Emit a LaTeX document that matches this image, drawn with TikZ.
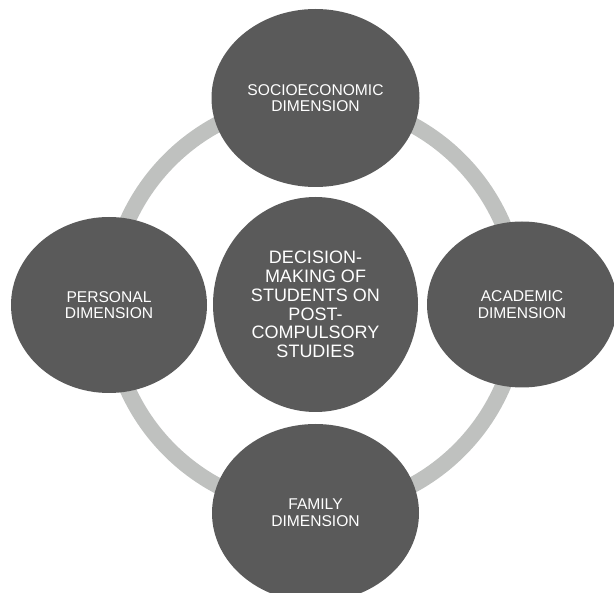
\documentclass[tikz,border=0pt]{standalone}
\usepackage{fontspec}
\setmainfont{Liberation Sans}
\usetikzlibrary{shapes.geometric}
\definecolor{blobgray}{HTML}{5A5A5A}
\definecolor{ringgray}{HTML}{BFC1BF}
\tikzset{
dimnode/.style={ellipse, fill=blobgray, text=white, inner sep=0pt, align=center,
	font=\fontsize{15.6}{16.7}\selectfont},
corenode/.style={dimnode, font=\fontsize{18}{18.7}\selectfont},
ringline/.style={draw=ringgray, line width=16pt}
}

\begin{document}
\begin{tikzpicture}[x=1pt, y=-1pt]
\useasboundingbox (0,0) rectangle (614,593);
\clip (0,0) rectangle (614,593);
%centre of the ring
\coordinate(mid) at (314.5,305);
\draw[ringline] (mid) circle[radius=205pt];

\node[corenode, minimum width=205pt, minimum height=215pt](core) at (315.5,304.5)
	{DECISION-\\MAKING OF\\STUDENTS ON\\POST-\\COMPULSORY\\STUDIES};
\node[dimnode, minimum width=208pt, minimum height=178pt](socio) at (315.5,98)
	{SOCIOECONOMIC\\DIMENSION};
\node[dimnode, minimum width=196pt, minimum height=176pt](personal) at (109,305)
	{PERSONAL\\DIMENSION};
\node[dimnode, minimum width=190pt, minimum height=166pt](academic) at (522,304.5)
	{ACADEMIC\\DIMENSION};
\node[dimnode, minimum width=207pt, minimum height=178pt](family) at (315.5,513)
	{FAMILY\\DIMENSION};
\end{tikzpicture}
\end{document}
